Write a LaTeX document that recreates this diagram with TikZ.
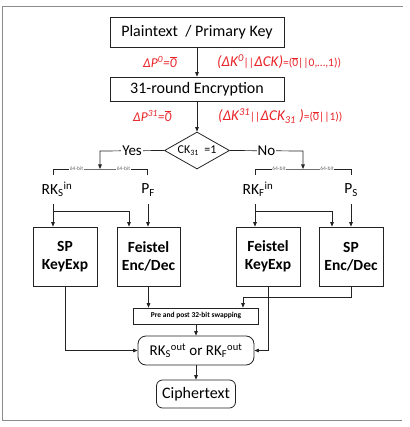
\documentclass[tikz,border=0pt]{standalone}
\usepackage{fontspec}
\setmainfont{Carlito}
\usetikzlibrary{arrows.meta,shapes.geometric,calc}
\definecolor{lred}{RGB}{232,36,40}
\definecolor{ink}{RGB}{35,35,35}
\newcommand\ovz{\ensuremath{\overline{\mbox{0}}}}
\begin{document}
\begin{tikzpicture}[x=1pt,y=-1pt,
  frame/.style={draw=black!45,line width=0.9pt},
  box/.style={draw=ink,line width=0.8pt,inner sep=0pt,align=center},
  mainf/.style={font=\fontsize{16}{18}\selectfont},
  boldf/.style={font=\fontsize{15.5}{18}\selectfont\bfseries},
  ln/.style={draw=ink,line width=0.7pt},
  arr/.style={ln,-{Triangle[length=4.5pt,width=3.6pt]}},
  bit/.style={font=\fontsize{5.5}{6}\selectfont,text=black!60,fill=white,inner sep=0.6pt},
  yn/.style={font=\fontsize{15}{17}\selectfont,fill=white,inner sep=1pt},
  lab/.style={font=\fontsize{15.5}{17}\selectfont,inner sep=0pt},
  redl/.style={text=lred,inner sep=0pt,anchor=west}]
\useasboundingbox (0,0) rectangle (409,427);
\draw[frame] (403,6) -- (2.5,6) -- (2.5,420) -- (402,420);
% top boxes
\node[box,mainf,minimum width=174pt,minimum height=30pt] (pt) at (197,32) {Plaintext~~/ Primary Key};
\node[box,mainf,minimum width=174pt,minimum height=24pt] (enc) at (197,89) {31-round Encryption};
\draw[arr] (pt.south) -- (enc.north);
\node[redl,font=\fontsize{13.5}{15}\selectfont\itshape] (dp0) at (143,62) {ΔP\textsuperscript{0}=\ovz};
\node[redl] (dk0) at (217,62) {{\fontsize{15}{17}\selectfont\itshape (ΔK\textsuperscript{0}{\fontsize{11.5}{12}\selectfont||}ΔCK)}{\fontsize{11.5}{13}\selectfont =(\ovz||0,…,1))}};
\node[redl,font=\fontsize{13.5}{15}\selectfont\itshape] (dp31) at (133,116) {ΔP\textsuperscript{31}=\ovz};
\node[redl] (dk31) at (218,116) {{\fontsize{15}{17}\selectfont\itshape (ΔK\textsuperscript{31}{\fontsize{11.5}{12}\selectfont||}ΔCK\textsubscript{31}~)}{\fontsize{11.5}{13}\selectfont =(\ovz||1))}};
% decision
\node[draw=ink,line width=0.8pt,diamond,aspect=1.75,inner sep=0pt,minimum width=65pt,minimum height=37pt,font=\fontsize{12}{14}\selectfont] (ck) at (197,150.5) {CK\textsubscript{31}~~=1};
\draw[arr] (enc.south) -- (ck.north);
% left branch
\coordinate (ly) at (100,151);
\coordinate (lb) at (100,169);
\coordinate (lbl) at (53,169);
\coordinate (lbr) at (147,169);
\draw[arr] (ck.west) -- node[yn] (yes) {Yes} (ly) -- (lb);
\draw[ln] ($(lbl)+(0,6)$) -- (lbl) -- node[bit] (b1) {64-bit} (lb) -- node[bit] (b2) {64-bit} (lbr) -- ($(lbr)+(0,6)$);
\node[lab] (rksin) at (57,189) {RK\textsubscript{S}\textsuperscript{in}};
\node[lab] (pf) at (148,190) {P\textsubscript{F}};
% right branch
\coordinate (ry) at (303,151);
\coordinate (rb) at (303,169);
\coordinate (rbl) at (255,169);
\coordinate (rbr) at (351,169);
\draw[arr] (ck.east) -- node[yn] (no) {No} (ry) -- (rb);
\draw[ln] ($(rbl)+(0,6)$) -- (rbl) -- node[bit] (b3) {64-bit} (rb) -- node[bit] (b4) {64-bit} (rbr) -- ($(rbr)+(0,6)$);
\node[lab] (rkfin) at (258,189) {RK\textsubscript{F}\textsuperscript{in}};
\node[lab] (ps) at (351,190) {P\textsubscript{S}};
% blocks
\node[box,boldf,minimum width=64pt,minimum height=59pt] (spk) at (65,256.5) {SP\\KeyExp};
\node[box,boldf,minimum width=63pt,minimum height=59pt] (fed) at (148.5,256.5) {Feistel\\Enc/Dec};
\node[box,boldf,minimum width=64pt,minimum height=59pt] (fke) at (268,256.5) {Feistel\\KeyExp};
\node[box,boldf,minimum width=64pt,minimum height=59pt] (sped) at (351,256.5) {SP\\Enc/Dec};
% inputs to blocks
\coordinate (ls) at (53,204);
\coordinate (lj) at (53,211);
\coordinate (lk) at (129,211);
\draw[arr] (ls) -- (ls |- spk.north);
\draw[ln] (lj) -- (lk);
\draw[arr] (lk) -- (lk |- fed.north);
\draw[arr] (pf.south |- ls) -- (pf.south |- fed.north);
\coordinate (rs) at (255,204);
\coordinate (rj) at (255,211);
\coordinate (rk) at (332,211);
\draw[arr] (rs) -- (rs |- fke.north);
\draw[ln] (rj) -- (rk);
\draw[arr] (rk) -- (rk |- sped.north);
\draw[arr] (ps.south |- rs) -- (ps.south |- sped.north);
% swap and output
\node[box,minimum width=125pt,minimum height=16pt,font=\fontsize{7.5}{9}\selectfont\bfseries,line width=0.7pt] (swap) at (196,316) {Pre and post 32-bit swapping};
\node[box,font=\fontsize{15}{17}\selectfont,rounded corners=8pt,minimum width=116pt,minimum height=29pt] (rkout) at (196,350.5) {RK\textsubscript{S}\textsuperscript{out} or RK\textsubscript{F}\textsuperscript{out}};
\node[box,mainf,rounded corners=6pt,minimum width=79pt,minimum height=28pt] (cipher) at (196,394) {Ciphertext};
\draw[arr] (fed.south) -- (fed.south |- swap.north);
\coordinate (sj) at (243,297);
\draw[ln] (sped.south) |- (sj);
\draw[arr] (sj) -- (sj |- swap.north);
\draw[arr] (spk.south) |- (rkout.west);
\draw[arr] (fke.south) |- (rkout.east);
\draw[arr] (swap.south) -- (rkout.north);
\draw[arr] (rkout.south) -- (cipher.north);
\end{tikzpicture}
\end{document}
